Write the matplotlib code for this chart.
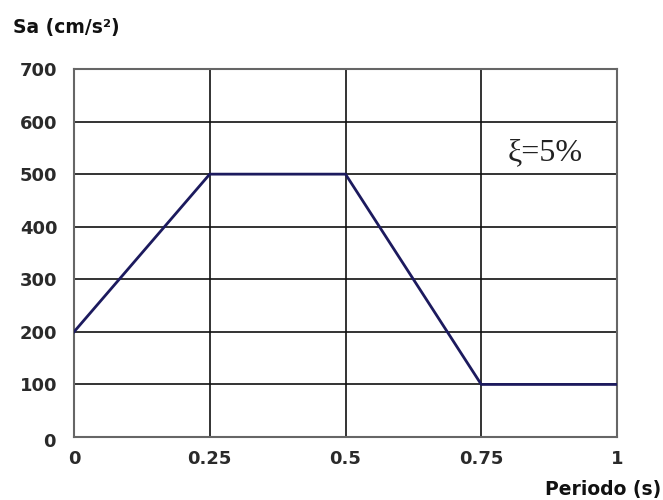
import numpy as np
import matplotlib.pyplot as plt

# === Données du spectre ===
periodo = [0, 0.25, 0.5, 0.75, 1]
sa = [200, 500, 500, 100, 100]
xticks = [0, 0.25, 0.5, 0.75, 1]
xtick_labels = ["0", "0.25", "0.5", "0.75", "1"]
yticks = [100, 200, 300, 400, 500, 600, 700]

plt.rcParams['font.family'] = ['DejaVu Sans']

fig = plt.figure(figsize=(6.63, 5), dpi=100)
ax = fig.add_axes([74/663, 1 - 437/500, (617 - 74)/663, (437 - 69)/500])

ax.plot(periodo, sa, color="#1c1a5e", lw=2, zorder=3)

ax.set_xlim(0, 1)
ax.set_ylim(0, 700)
ax.set_xticks(xticks)
ax.set_xticklabels(xtick_labels)
ax.set_yticks(yticks)
ax.tick_params(length=0, labelsize=13, labelcolor="#2a2a2a")
ax.tick_params(axis='x', pad=9)
ax.tick_params(axis='y', pad=12)
for lab in ax.get_xticklabels() + ax.get_yticklabels():
    lab.set_fontweight('bold')

ax.grid(True, color="#111111", lw=1.2)
for s in ax.spines.values():
    s.set_color("#666666")
    s.set_linewidth(1.5)

# "0" de l'axe y, un peu plus bas
fig.text(49/663, 1 - 442/500, "0", ha="center", va="center",
         fontsize=13, fontweight="bold", color="#2a2a2a")

fig.text(13/663, 1 - 27/500, "Sa (cm/s²)", ha="left", va="center",
         fontsize=13.5, fontweight="bold", color="#111111")
fig.text(661/663, 1 - 489/500, "Periodo (s)", ha="right", va="center",
         fontsize=13.5, fontweight="bold", color="#111111")

ax.text(0.867, 527, "ξ=5%", ha="center", va="baseline",
        fontsize=23, family=["Liberation Serif", "DejaVu Serif"], color="#222222")

plt.savefig("out.png", dpi=100)
